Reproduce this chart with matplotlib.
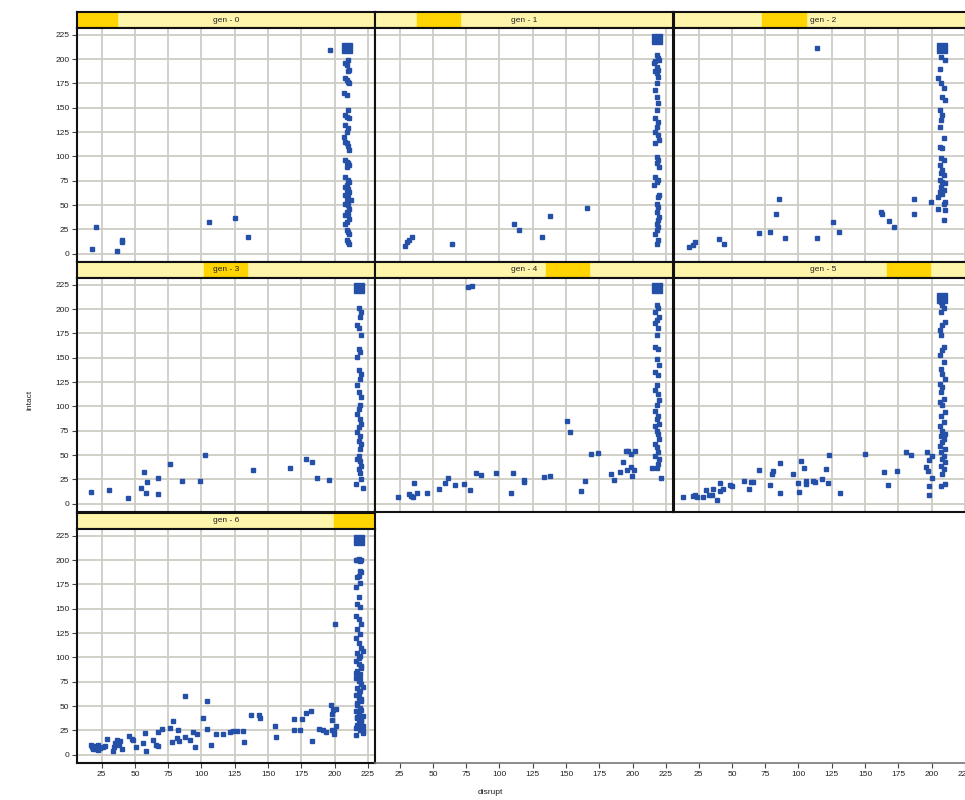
import matplotlib
matplotlib.use("Agg")
import matplotlib.pyplot as plt
from matplotlib.patches import Rectangle

plt.rcParams['font.family'] = ['Liberation Sans', 'DejaVu Sans']

W, H = 965, 800

# ---------------- data ----------------
panel_titles = ["gen - 0", "gen - 1", "gen - 2", "gen - 3", "gen - 4", "gen - 5", "gen - 6"]
shingle_lo = [0.00, 0.14, 0.294, 0.426, 0.574, 0.715, 0.862]
shingle_hi = [0.135, 0.284, 0.443, 0.570, 0.718, 0.859, 1.00]

x_ticks = [25, 50, 75, 100, 125, 150, 175, 200, 225]
y_ticks = [0, 25, 50, 75, 100, 125, 150, 175, 200, 225]

# large (overplotted) marks at the top of each panel
big_x = [209.1, 218.4, 208.0, 218.2, 218.4, 208.0, 218.3]
big_y = [211.3, 221.0, 211.3, 221.9, 221.6, 211.0, 221.2]

# ---- gen 0
gen0_x = [18.1, 20.9, 36.2, 40.4, 40.4, 105.3, 125.4, 134.6, 196.8]
gen0_y = [5.2, 27.5, 2.7, 12.4, 13.7, 32.6, 37.1, 16.8, 208.9]
gen0_col_x = [210, 208, 209, 211, 210, 208, 209, 210, 211, 207,
              209, 210, 208, 209, 211, 208, 210, 209, 207, 208,
              209, 210, 211, 208, 209, 210, 211, 209, 208, 210,
              211, 209, 208, 210, 209, 211, 210, 208, 209, 210,
              212, 209, 208, 210, 211, 209, 210, 208, 211, 209,
              208, 209, 210, 211, 209, 210, 211]
gen0_col_y = [199.3, 195.9, 194.2, 189.0, 188.0, 180.4, 178.7, 177.0, 175.3, 165.0,
              163.2, 147.8, 142.6, 140.9, 139.2, 132.3, 128.9, 125.4, 120.3, 115.1,
              113.4, 111.0, 106.5, 96.2, 94.5, 92.8, 91.1, 89.3, 79.0, 75.6,
              73.9, 70.4, 68.7, 67.0, 65.3, 63.6, 61.9, 60.1, 58.4, 56.7,
              55.0, 53.3, 51.5, 49.8, 46.4, 43.0, 41.2, 39.5, 36.1, 32.6,
              30.9, 24.1, 22.3, 20.6, 13.7, 12.0, 10.3]

# ---- gen 1
gen1_x = [28.8, 30.3, 32.0, 34.6, 64.7, 111.2, 115.0, 132.1, 137.6, 165.8]
gen1_y = [7.6, 12.0, 14.4, 17.2, 9.6, 30.2, 24.1, 17.2, 38.5, 47.4]
gen1_col_x = [218, 219, 220, 217, 216, 218, 219, 217, 218, 219,
              218, 217, 218, 219, 218, 217, 219, 218, 217, 219,
              220, 217, 218, 219, 218, 220, 217, 219, 218, 216,
              220, 219, 218, 219, 218, 220, 219, 218, 219, 218,
              217, 219, 218]
gen1_col_y = [204.5, 201.0, 199.3, 197.6, 195.9, 192.4, 189.0, 187.3, 185.6, 182.1,
              175.3, 168.4, 161.5, 154.6, 147.8, 139.2, 135.7, 130.6, 125.4, 122.0,
              116.8, 113.4, 99.7, 96.2, 92.8, 89.3, 79.0, 75.6, 73.9, 70.4,
              60.1, 58.4, 51.5, 48.1, 43.0, 37.8, 34.4, 30.9, 27.5, 24.1,
              20.6, 13.7, 10.3]

# ---- gen 2
gen2_x = [17.7, 20.7, 22.5, 40.0, 44.1, 70.4, 78.4, 83.4, 85.2, 89.7,
          114.2, 114.2, 125.8, 130.5, 161.9, 162.4, 167.9, 171.7, 186.7, 186.7,
          199.2]
gen2_y = [6.9, 9.3, 11.7, 14.8, 9.6, 21.3, 22.7, 40.5, 56.7, 15.8,
          211.3, 15.8, 32.6, 22.7, 43.0, 41.2, 33.7, 27.5, 56.7, 40.5,
          52.9]
gen2_col_x = [207, 210, 206, 205, 207, 209, 208, 210, 206, 208,
              207, 206, 209, 206, 208, 207, 209, 206, 208, 207,
              209, 206, 208, 210, 207, 209, 206, 208, 205, 210,
              209, 205, 210, 209]
gen2_col_y = [202.7, 199.3, 190.0, 180.4, 175.3, 170.1, 161.5, 158.1, 147.8, 142.6,
              137.5, 130.6, 118.6, 110.0, 108.2, 97.9, 96.2, 91.1, 85.9, 82.5,
              80.8, 75.6, 73.9, 72.2, 68.7, 65.3, 63.6, 61.9, 58.4, 53.3,
              51.5, 46.4, 44.7, 34.4]

# ---- gen 3
gen3_x = [17.2, 30.8, 45.0, 54.5, 56.5, 58.0, 59.3, 67.3, 67.3, 76.6,
          85.1, 98.8, 102.3, 138.6, 166.4, 178.7, 183.2, 186.4, 195.9]
gen3_y = [12.4, 14.5, 5.5, 16.5, 33.1, 11.4, 22.7, 26.9, 10.3, 41.0,
          23.1, 23.1, 50.3, 34.8, 36.5, 45.8, 42.4, 26.2, 24.1]
gen3_col_x = [218, 220, 219, 217, 218, 220, 218, 219, 217, 218,
              220, 219, 217, 218, 220, 219, 218, 217, 219, 220,
              218, 217, 219, 218, 220, 219, 218, 217, 219, 220,
              218, 219, 220, 216, 221]
gen3_col_y = [200.9, 197.4, 192.3, 183.7, 180.2, 173.3, 159.5, 156.1, 150.9, 137.1,
              133.7, 128.5, 121.6, 114.7, 109.6, 101.0, 97.5, 92.4, 87.2, 82.0,
              78.6, 73.4, 70.0, 64.8, 61.3, 56.2, 49.3, 45.8, 44.1, 38.9,
              35.5, 32.0, 25.2, 20.0, 16.5]

# ---- gen 4
gen4_x = [23.7, 32.3, 33.8, 35.3, 36.1, 37.8, 45.4, 54.4, 59.0, 61.0,
          66.7, 73.3, 76.0, 79.1, 77.6, 82.6, 86.1, 97.7, 109.0, 110.0,
          118.5, 118.5, 133.6, 137.6, 150.7, 153.0, 161.0, 164.3, 168.8, 173.6,
          183.4, 185.9, 190.2, 192.9, 194.9, 195.9, 196.7, 198.5, 198.5, 199.5,
          201.0, 201.8]
gen4_y = [7.2, 10.3, 8.3, 7.2, 21.4, 10.7, 11.0, 15.5, 21.4, 26.9,
          19.0, 20.0, 222.6, 224.0, 13.8, 32.0, 29.6, 32.0, 10.7, 32.0,
          24.5, 22.7, 27.9, 28.6, 85.1, 73.7, 13.4, 23.1, 50.7, 51.7,
          31.0, 24.1, 32.7, 42.4, 54.1, 34.5, 54.1, 50.7, 37.6, 28.3,
          34.8, 54.4]
gen4_col_x = [218, 219, 217, 220, 218, 217, 219, 218, 217, 219,
              218, 220, 217, 219, 218, 217, 219, 220, 218, 217,
              219, 218, 220, 217, 218, 219, 220, 217, 218, 219,
              217, 220, 219, 218, 221, 214.8]
gen4_col_y = [204.3, 200.9, 197.4, 192.3, 188.8, 185.4, 180.2, 173.3, 161.3, 159.5,
              149.2, 142.3, 135.4, 132.0, 121.6, 116.5, 113.0, 106.1, 101.0, 95.8,
              90.6, 87.2, 82.0, 80.3, 75.1, 71.7, 66.5, 61.3, 57.9, 52.7,
              49.3, 45.8, 40.7, 37.2, 26.9, 37.2]

# ---- gen 5
gen5_x = [13.2, 20.7, 22.0, 24.0, 28.3, 30.3, 32.5, 35.3, 36.0, 38.5,
          40.8, 41.3, 43.6, 48.6, 50.1, 59.1, 62.6, 64.6, 65.9, 70.4,
          78.9, 80.4, 80.9, 86.4, 86.4, 95.7, 99.9, 100.5, 102.0, 104.0,
          106.0, 106.0, 111.0, 112.5, 117.5, 120.5, 122.3, 122.8, 130.8, 149.8,
          164.4, 167.1, 173.7, 180.7, 184.2, 196.5, 195.5, 197.0, 198.0, 198.0,
          198.0, 200.2, 200.5]
gen5_y = [6.9, 7.9, 9.0, 7.2, 7.2, 13.8, 9.0, 9.0, 15.5, 3.8,
          21.4, 13.4, 14.8, 19.6, 18.3, 23.1, 15.5, 22.7, 22.4, 34.5,
          19.3, 31.0, 33.8, 41.4, 11.0, 30.3, 21.7, 12.4, 44.1, 36.5,
          20.7, 23.4, 23.4, 22.4, 25.2, 36.2, 21.7, 50.3, 10.7, 50.7,
          32.4, 19.0, 33.8, 52.7, 50.3, 53.1, 38.2, 33.8, 44.8, 18.3,
          8.6, 26.5, 48.6]
gen5_col_x = [207, 208, 209, 207, 210, 208, 206, 207, 209, 208,
              206, 209, 207, 208, 210, 206, 208, 207, 209, 206,
              208, 210, 207, 209, 206, 208, 210, 207, 209, 208,
              206, 210, 207, 209, 208, 210, 207, 209, 208, 210,
              207]
gen5_col_y = [207.8, 204.3, 200.9, 197.4, 187.1, 183.7, 178.5, 173.3, 161.3, 157.8,
              152.7, 145.8, 138.9, 133.7, 128.5, 123.4, 119.9, 114.7, 107.9, 104.4,
              101.0, 94.1, 90.6, 83.7, 80.3, 75.1, 71.7, 70.0, 66.5, 63.1,
              59.6, 56.2, 52.7, 49.3, 45.8, 42.4, 38.9, 35.5, 30.3, 20.0,
              18.3]

# ---- gen 6
gen6_x = [17.0, 17.5, 18.2, 19.5, 20.8, 22.0, 22.5, 23.8, 25.8, 27.5,
          28.8, 33.3, 34.0, 35.3, 36.3, 38.3, 39.0, 40.3, 45.3, 47.8,
          48.8, 50.8, 55.8, 57.5, 58.3, 63.3, 65.8, 67.5, 67.5, 70.3,
          76.5, 77.5, 78.8, 81.3, 82.5, 83.3, 87.3, 87.5, 91.3, 93.3,
          95.3, 96.5, 101.5, 104.5, 104.5, 107.0, 110.8, 116.5, 121.3, 123.3,
          127.0, 131.5, 132.0, 137.5, 143.3, 144.3, 155.3, 155.8, 169.5, 169.5,
          174.0, 175.3, 178.8, 182.5, 183.3, 188.3, 191.3, 193.8, 197.0, 197.8,
          198.3, 198.8, 199.3, 199.8, 200.3, 200.8, 201.3, 198.3]
gen6_y = [10.3, 7.9, 6.2, 8.6, 5.8, 10.3, 5.2, 6.9, 7.9, 8.6,
          16.2, 3.4, 7.9, 12.0, 15.5, 10.3, 13.8, 5.8, 18.9, 16.2,
          14.8, 7.9, 12.0, 22.4, 3.4, 15.5, 10.3, 8.6, 23.0, 26.8,
          27.5, 12.7, 34.7, 17.2, 25.1, 14.1, 60.2, 17.9, 15.5, 23.0,
          7.9, 21.7, 37.8, 55.0, 26.8, 10.0, 21.3, 21.7, 23.0, 24.1,
          24.8, 24.1, 13.1, 40.9, 41.3, 37.8, 29.2, 17.9, 36.8, 25.1,
          25.8, 37.2, 42.7, 45.1, 13.8, 26.8, 25.8, 23.0, 50.6, 25.8,
          36.1, 45.8, 24.1, 21.7, 134.2, 47.5, 29.2, 41.6]
gen6_col_x = [216, 218, 220, 219, 217, 219, 220, 218, 217, 219,
              216, 218, 217, 219, 216, 218, 220, 217, 219, 216,
              218, 220, 217, 219, 216, 218, 220, 217, 219, 216,
              218, 220, 217, 219, 216, 218, 220, 217, 219, 216,
              218, 217, 220, 217, 219, 221, 216, 220, 218, 221,
              217, 220, 218, 221, 216, 219, 221, 217, 220, 218,
              221, 219, 216, 220, 218, 221]
gen6_col_y = [200.2, 201.0, 199.8, 199.2, 200.6, 189.2, 187.5, 184.0, 182.3, 176.5,
              172.0, 161.7, 154.8, 151.4, 142.8, 139.3, 134.2, 129.0, 123.8, 120.4,
              115.2, 110.1, 104.9, 101.5, 96.3, 92.9, 89.4, 86.0, 82.6, 79.1,
              75.7, 72.2, 68.8, 65.4, 61.9, 58.5, 55.0, 51.6, 48.2, 44.7,
              41.3, 37.8, 34.4, 31.0, 27.5, 24.1, 20.6, 46.0, 43.5, 40.0,
              38.5, 36.0, 33.0, 29.5, 27.0, 25.0, 22.5, 53.0, 57.0, 63.5,
              70.0, 77.5, 84.0, 91.5, 99.0, 107.0]

panels_x = [gen0_x + gen0_col_x, gen1_x + gen1_col_x, gen2_x + gen2_col_x,
            gen3_x + gen3_col_x, gen4_x + gen4_col_x, gen5_x + gen5_col_x,
            gen6_x + gen6_col_x]
panels_y = [gen0_y + gen0_col_y, gen1_y + gen1_col_y, gen2_y + gen2_col_y,
            gen3_y + gen3_col_y, gen4_y + gen4_col_y, gen5_y + gen5_col_y,
            gen6_y + gen6_col_y]

# ---------------- layout ----------------
col_left = [77, 375, 674]
col_w = 298
strip_top = [12, 262, 513]
strip_h = 16
panel_h = 234
XLIM = (6.5, 230.3)
YLIM = (-8.5, 232)

PT_COLOR = '#2450A8'
GRID_C = '#cdcdc5'
STRIP_BG = '#FFF5AA'
STRIP_FG = '#FFD400'

fig = plt.figure(figsize=(W / 100, H / 100), dpi=100)


def px_axes(l, t, w, h):
    return fig.add_axes([l / W, 1 - (t + h) / H, w / W, h / H])


for i in range(7):
    r, c = divmod(i, 3)
    l = col_left[c]
    st = strip_top[r]
    # strip
    sax = px_axes(l, st, col_w, strip_h)
    sax.set_xlim(0, 1)
    sax.set_ylim(0, 1)
    sax.add_patch(Rectangle((0, 0), 1, 1, color=STRIP_BG, zorder=0))
    sax.add_patch(Rectangle((shingle_lo[i], 0), shingle_hi[i] - shingle_lo[i], 1,
                            color=STRIP_FG, zorder=1))
    sax.text(0.5, 0.5, panel_titles[i], ha='center', va='center', fontsize=6,
             color='#222222', zorder=2)
    sax.set_xticks([])
    sax.set_yticks([])
    for sp in sax.spines.values():
        sp.set_linewidth(1.5)
        sp.set_color('#111111')

    # panel
    ax = px_axes(l, st + strip_h, col_w, panel_h)
    ax.set_xlim(*XLIM)
    ax.set_ylim(*YLIM)
    ax.set_xticks(x_ticks)
    ax.set_yticks(y_ticks)
    ax.grid(True, color=GRID_C, lw=1.3)
    ax.set_axisbelow(True)
    ax.plot(panels_x[i], panels_y[i], ls='none', marker='s', ms=2.4,
            color=PT_COLOR, mec=PT_COLOR, zorder=3)
    ax.plot([big_x[i]], [big_y[i]], ls='none', marker='s', ms=7.5,
            color=PT_COLOR, mec=PT_COLOR, zorder=3)
    for sp in ax.spines.values():
        sp.set_linewidth(1.5)
        sp.set_color('#111111')
    ax.tick_params(direction='out', length=3.5, width=0.8, color='#444444',
                   labelsize=6, labelcolor='#222222', pad=2)
    if c != 0:
        ax.tick_params(axis='y', left=False, labelleft=False)
    if r != 2:
        ax.tick_params(axis='x', bottom=False, labelbottom=False)

# bottom axes (ticks only) for empty cells
for c in [1, 2]:
    bax = px_axes(col_left[c], strip_top[2] + strip_h, col_w, panel_h)
    bax.set_xlim(*XLIM)
    bax.set_xticks(x_ticks)
    bax.set_yticks([])
    bax.patch.set_visible(False)
    for s in ['top', 'left', 'right']:
        bax.spines[s].set_visible(False)
    bax.spines['bottom'].set_color('#777777')
    bax.spines['bottom'].set_linewidth(1.2)
    bax.tick_params(direction='out', length=3.5, width=0.8, color='#444444',
                    labelsize=6, labelcolor='#222222', pad=2)

fig.text(30 / W, 1 - 400 / H, 'intact', rotation=90, ha='center', va='center',
         fontsize=6, color='#222222')
fig.text(490 / W, 1 - 793 / H, 'disrupt', ha='center', va='center',
         fontsize=6, color='#222222')

fig.savefig('out.png', dpi=100, facecolor='white')
